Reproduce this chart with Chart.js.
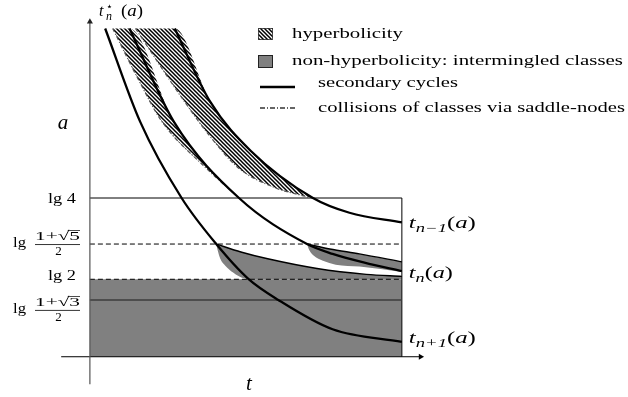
<!DOCTYPE html>
<html>
<head>
<meta charset="utf-8">
<script src="https://cdn.jsdelivr.net/npm/chart.js@4.4.1/dist/chart.umd.min.js"></script>
<style>
  html, body { margin: 0; padding: 0; background: #fff; }
  #wrap { width: 628px; height: 397px; }
</style>
</head>
<body>
<div id="wrap"><canvas id="chart" width="628" height="397"></canvas></div>
<script>
// Schematic levels on the a-axis (not to scale): lg 4, lg (1+sqrt5)/2, lg 2, lg (1+sqrt3)/2
const levelValues = [10.0, 7.10, 4.88, 3.58];
const levelLabels = ['lg 4', ['1+√', '5', '2'], 'lg 2', ['1+√', '3', '2']];
const tRange = [0, 10];

// secondary cycle curves, [t, a]
const curvePrev = [[2.72, 20.68], [3.86, 16.05], [5.16, 12.96], [7.15, 10.0], [8.32, 9.07], [10.0, 8.46]];
const curveN = [[1.27, 20.68], [2.69, 14.81], [4.78, 10.0], [6.96, 7.10], [7.78, 6.48], [8.80, 5.93], [10.0, 5.40]];
const curveNext = [[0.49, 20.68], [1.61, 14.81], [2.94, 10.0], [4.05, 7.10], [5.06, 4.94], [6.04, 3.58],
                   [7.78, 1.73], [10.0, 0.93]];

// collisions of classes via saddle-nodes (lower edges of the hatched bands)
const collide1 = [[0.73, 20.68], [1.52, 17.59], [2.31, 14.81], [3.64, 12.04], [4.78, 10.0]];
const collide2 = [[1.46, 20.68], [3.04, 16.05], [3.80, 14.01], [4.75, 11.91], [5.89, 10.68],
                  [6.74, 10.19], [7.15, 10.0]];

// non-hyperbolic tongues: upper edge and lower (tail) edge
const tongue1Top = [[4.05, 7.10], [4.84, 6.60], [5.70, 6.17], [7.28, 5.56], [8.86, 5.19], [10.0, 5.06]];
const tongue1Low = [[4.05, 7.10], [4.10, 6.67], [4.18, 6.17], [4.34, 5.74], [4.59, 5.31],
                    [4.94, 4.94], [5.32, 4.88], [10.0, 4.88]];
const tongue2Top = [[6.96, 7.10], [7.69, 6.79], [8.64, 6.48], [10.0, 5.98]];
const tongue2Low = [[6.96, 7.10], [7.03, 6.73], [7.18, 6.36], [7.47, 6.05], [7.88, 5.80],
                    [8.64, 5.68], [10.0, 5.34]];

const legendLabels = ['hyperbolicity', 'non-hyperbolicity: intermingled classes',
                      'secondary cycles', 'collisions of classes via saddle-nodes'];

const GRAY = '#808080';
const SERIF = "'Liberation Serif', 'DejaVu Serif', serif";

const canvas = document.getElementById('chart');
const ctx = canvas.getContext('2d');

// diagonal hatch for the hyperbolic bands
function makeHatch() {
    const c = document.createElement('canvas');
    c.width = 4; c.height = 4;
    const g = c.getContext('2d');
    g.fillStyle = '#fff';
    g.fillRect(0, 0, 4, 4);
    g.strokeStyle = '#000';
    g.lineWidth = 1.5;
    g.beginPath();
    g.moveTo(-1, -1); g.lineTo(5, 5);
    g.moveTo(-1, 3); g.lineTo(1, 5);
    g.moveTo(3, -1); g.lineTo(5, 1);
    g.stroke();
    return ctx.createPattern(c, 'repeat');
}
const hatch = makeHatch();

function pts(arr) {
    return arr.map(p => ({x: p[0], y: p[1]}));
}

const datasets = [];
function add(data, opts) {
    datasets.push(Object.assign({
        data: pts(data),
        borderColor: '#000',
        borderWidth: 1,
        pointRadius: 0,
        fill: false,
        tension: 0,
        order: 5
    }, opts));
    return datasets.length - 1;
}
const smooth = {cubicInterpolationMode: 'monotone'};

// big grey block under lg 2
add([[tRange[0], levelValues[2]], [tRange[1], levelValues[2]]],
    {borderWidth: 0, fill: 'origin', backgroundColor: GRAY, order: 30});

// grey tongues
const low1 = add(tongue1Low, Object.assign({borderWidth: 0, order: 26}, smooth));
add(tongue1Top, Object.assign({borderWidth: 1.4, fill: low1, backgroundColor: GRAY, order: 25}, smooth));
const low2 = add(tongue2Low, Object.assign({borderWidth: 0, order: 26}, smooth));
add(tongue2Top, Object.assign({borderWidth: 1.4, fill: low2, backgroundColor: GRAY, order: 25}, smooth));

// hatched bands, capped at the top of the picture
const cap1 = add([collide1[0]].concat(curveN), Object.assign({borderWidth: 0, order: 26}, smooth));
add(collide1, Object.assign({borderWidth: 1.2, borderColor: '#555', borderDash: [4, 2, 1, 2],
    fill: cap1, backgroundColor: hatch, order: 25}, smooth));
const cap2 = add([collide2[0]].concat(curvePrev), Object.assign({borderWidth: 0, order: 26}, smooth));
add(collide2, Object.assign({borderWidth: 1.2, borderColor: '#555', borderDash: [4, 2, 1, 2],
    fill: cap2, backgroundColor: hatch, order: 25}, smooth));

// level lines
const levelStyles = [
    {borderDash: []},
    {borderDash: [5, 3]},
    {borderDash: [5, 3]},
    {borderDash: [], borderColor: '#3c3c3c', borderWidth: 1.5}
];
levelValues.forEach((v, i) => {
    add([[tRange[0], v], [tRange[1], v]], Object.assign({order: 10}, levelStyles[i]));
});
// right side of the box
add([[tRange[1], 0], [tRange[1], levelValues[0]]], {order: 10});

// axes with arrow heads
add([[0, -1.73], [0, 21.1]], {borderColor: '#555', borderWidth: 1.2, order: 9,
    pointRadius: [0, 3.5], pointStyle: 'triangle', pointBackgroundColor: '#222',
    pointBorderWidth: 0, rotation: 0});
add([[-0.92, 0], [10.6, 0]], {borderColor: '#000', borderWidth: 1, order: 9,
    pointRadius: [0, 3.5], pointStyle: 'triangle', pointBackgroundColor: '#000',
    pointBorderWidth: 0, rotation: 90});

// secondary cycles
[curvePrev, curveN, curveNext].forEach(c => {
    add(c, Object.assign({borderWidth: 2.3, order: 1}, smooth));
});

// ---- text helpers ----
function fitText(g, text, x, y, width, font, align) {
    g.font = font;
    const w = g.measureText(text).width;
    const s = width ? width / w : 1;
    let x0 = x;
    if (align === 'right') x0 = x - w * s;
    if (align === 'center') x0 = x - w * s / 2;
    g.save();
    g.translate(x0, y);
    g.scale(s, 1);
    g.textAlign = 'left';
    g.textBaseline = 'middle';
    g.fillText(text, 0, 0);
    g.restore();
}

// parts: [text, font, dy]; drawn on a common baseline, squeezed to width
function mathText(g, parts, x, y, width) {
    let total = 0;
    parts.forEach(p => { g.font = p[1]; total += g.measureText(p[0]).width; });
    const s = width ? width / total : 1;
    g.save();
    g.translate(x, y);
    g.scale(s, 1);
    g.textAlign = 'left';
    g.textBaseline = 'alphabetic';
    let cx = 0;
    parts.forEach(p => {
        g.font = p[1];
        g.fillText(p[0], cx, p[2]);
        cx += g.measureText(p[0]).width;
    });
    g.restore();
}

const IT = 'italic 16px ' + SERIF;
const ITS = 'italic 12px ' + SERIF;
const UP = '16px ' + SERIF;

const annotate = {
    id: 'annotate',
    afterDraw(chart) {
        const g = chart.ctx;
        const xs = chart.scales.x, ys = chart.scales.y;
        const x0 = xs.getPixelForValue(tRange[0]);
        const x1 = xs.getPixelForValue(tRange[1]);
        g.save();
        g.fillStyle = '#000';
        g.strokeStyle = '#000';

        // level labels on the left
        const shift = [1, 0, -3, 10];
        levelLabels.forEach((lab, i) => {
            const y = ys.getPixelForValue(levelValues[i]) + shift[i];
            if (typeof lab === 'string') {
                fitText(g, lab, x0 - 14, y, 28, '15px ' + SERIF, 'right');
                return;
            }
            fitText(g, 'lg', 13, y - 1, 13, '15px ' + SERIF, 'left');
            const nx = 35, nw = 45;
            g.font = '13px ' + SERIF;
            const wa = g.measureText(lab[0]).width, wb = g.measureText(lab[1]).width;
            const s = nw / (wa + wb);
            g.save();
            g.translate(nx, y - 7);
            g.scale(s, 1);
            g.textBaseline = 'middle';
            g.fillText(lab[0] + lab[1], 0, 0);
            g.lineWidth = 0.7;
            g.beginPath();
            g.moveTo(wa - 1, -6.5); g.lineTo(wa + wb, -6.5);
            g.stroke();
            g.restore();
            g.lineWidth = 0.8;
            g.beginPath();
            g.moveTo(nx, y + 0.5); g.lineTo(nx + nw, y + 0.5);
            g.stroke();
            fitText(g, lab[2], nx + nw / 2 + 1, y + 8, 0, '13px ' + SERIF, 'center');
        });

        // curve names on the right
        const names = [
            [curvePrev, 'n\u22121', 6, 67],
            [curveN, 'n', 7, 44],
            [curveNext, 'n+1', 1, 67]
        ];
        names.forEach(n => {
            const end = n[0][n[0].length - 1];
            const y = ys.getPixelForValue(end[1]) + n[2];
            mathText(g, [['t', IT, 0], [n[1], ITS, 4], ['(', UP, 0], ['a', IT, 0], [')', UP, 0]],
                     x1 + 7, y, n[3]);
        });

        // t*_n(a) at the top
        mathText(g, [['t', IT, 0]], 99, 16, 0);
        g.font = '11px DejaVu Sans';
        g.fillText('\u22C6', 106, 10);
        mathText(g, [['n', ITS, 0]], 106, 20, 0);
        mathText(g, [['(', UP, 0], ['a', IT, 0], [')', UP, 0]], 121, 16, 22);

        // axis names
        g.font = 'italic 21px ' + SERIF;
        g.textAlign = 'center';
        g.textBaseline = 'alphabetic';
        g.fillText('a', 63, 129);
        g.fillText('t', 249, 390);

        // legend
        g.textAlign = 'left';
        g.fillStyle = hatch;
        g.fillRect(258, 28, 15, 12);
        g.strokeStyle = '#333';
        g.lineWidth = 0.8;
        g.strokeRect(258.5, 28.5, 14, 11);
        g.fillStyle = GRAY;
        g.fillRect(258, 55, 15, 13);
        g.strokeStyle = '#222';
        g.lineWidth = 1;
        g.strokeRect(258.5, 55.5, 14, 12);
        g.strokeStyle = '#000';
        g.lineWidth = 2.4;
        g.beginPath();
        g.moveTo(260, 87); g.lineTo(295, 87);
        g.stroke();
        g.strokeStyle = '#333';
        g.lineWidth = 1.3;
        g.setLineDash([5, 2, 1, 2]);
        g.beginPath();
        g.moveTo(260, 108); g.lineTo(295, 108);
        g.stroke();
        g.setLineDash([]);
        g.fillStyle = '#000';
        const legPos = [[292, 34, 111], [292, 61, 331], [318, 83, 140], [318, 108, 307]];
        legendLabels.forEach((txt, i) => {
            fitText(g, txt, legPos[i][0], legPos[i][1], legPos[i][2], '15px ' + SERIF, 'left');
        });
        g.restore();
    }
};

new Chart(ctx, {
    type: 'line',
    data: {datasets: datasets},
    options: {
        responsive: false,
        animation: false,
        events: [],
        layout: {padding: 0},
        plugins: {
            legend: {display: false},
            tooltip: {enabled: false},
            filler: {propagate: false}
        },
        scales: {
            x: {type: 'linear', display: false, min: -2.753, max: 17.120},
            y: {type: 'linear', display: false, min: -2.284, max: 22.222}
        }
    },
    plugins: [annotate]
});
</script>
</body>
</html>
